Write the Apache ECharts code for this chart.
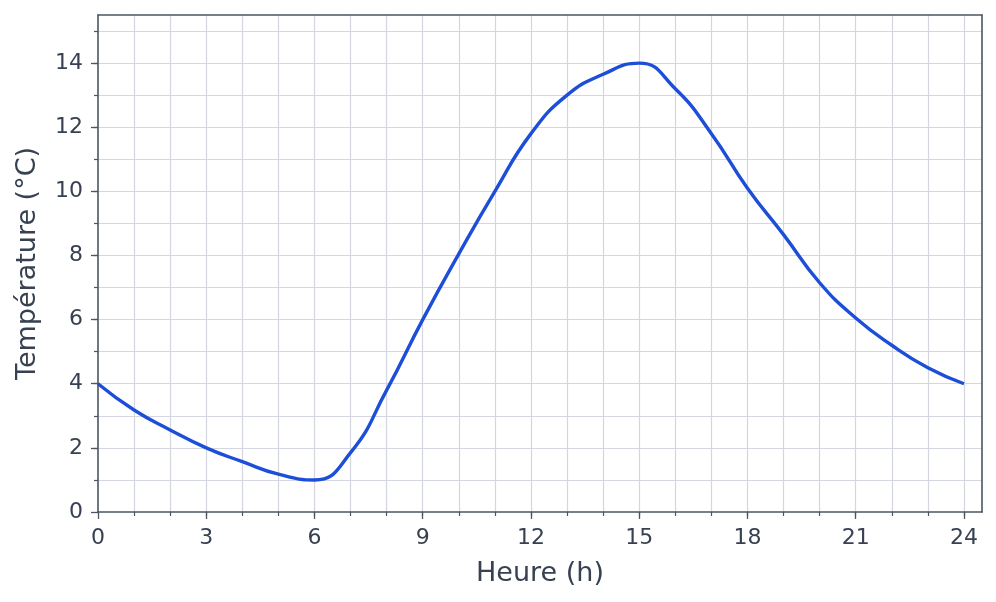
<!DOCTYPE html>
<html>
<head>
<meta charset="utf-8">
<script src="https://cdn.jsdelivr.net/npm/echarts@6/dist/echarts.min.js"></script>
<style>
html,body{margin:0;padding:0;background:#fff;}
#c{width:996px;height:602px;}
</style>
</head>
<body>
<div id="c"></div>
<script>
// Data
var hours = [0,1,2,3,4,5,6,7,8,9,10,11,12,13,14,15,16,17,18,19,20,21,22,23,24];
var temperatures = [4.0,3.18,2.56,2.0,1.57,1.18,1.0,1.85,3.8,6.0,8.05,10.0,11.8,13.0,13.65,14.0,13.2,11.8,10.1,8.65,7.15,6.05,5.2,4.5,4.0];
var xMajorTicks = [0,3,6,9,12,15,18,21,24];
var xMinorTicks = [1,2,3,4,5,6,7,8,9,10,11,12,13,14,15,16,17,18,19,20,21,22,23,24];
var yMajorTicks = [0,2,4,6,8,10,12,14];
var yMinorTicks = [1,2,3,4,5,6,7,8,9,10,11,12,13,14,15];
var xTitle = 'Heure (h)';
var yTitle = 'Température (°C)';

var AX = '#4b5563', TXT = '#374151', GRID = '#d4d7e0', LINE = '#1d4ed8';
var FONT = 'DejaVu Sans';

var points = hours.map(function(h,i){ return [h, temperatures[i]]; });

var chart = echarts.init(document.getElementById('c'), null, {renderer:'canvas'});
chart.setOption({
  animation:false,
  backgroundColor:'#ffffff',
  grid:{left:98,right:14,top:15,bottom:90,containLabel:false},
  xAxis:[
    {
      type:'value', min:0, max:24.5, position:'bottom',
      axisLine:{show:false},
      axisTick:{show:true, customValues:xMinorTicks, length:4, lineStyle:{color:AX,width:1.2}},
      axisLabel:{show:false},
      splitLine:{show:true, lineStyle:{color:GRID,width:1.2}}
    },
    {
      type:'value', min:0, max:24.5, position:'bottom',
      axisLine:{show:true, onZero:false, lineStyle:{color:AX,width:1.6}},
      axisTick:{show:true, customValues:xMajorTicks, length:7, lineStyle:{color:AX,width:1.3}},
      axisLabel:{show:true, customValues:xMajorTicks, margin:15, color:TXT, fontSize:22, fontFamily:FONT},
      splitLine:{show:false},
      name:xTitle, nameLocation:'middle', nameGap:48,
      nameTextStyle:{color:TXT, fontSize:27, fontFamily:FONT}
    },
    {
      type:'value', min:0, max:24.5, position:'top',
      axisLine:{show:true, onZero:false, lineStyle:{color:AX,width:1.6}},
      axisTick:{show:false}, axisLabel:{show:false}, splitLine:{show:false}
    }
  ],
  yAxis:[
    {
      type:'value', min:0, max:15.5, position:'left',
      axisLine:{show:false},
      axisTick:{show:true, customValues:yMinorTicks, length:4, lineStyle:{color:AX,width:1.2}},
      axisLabel:{show:false},
      splitLine:{show:true, lineStyle:{color:GRID,width:1.2}}
    },
    {
      type:'value', min:0, max:15.5, position:'left',
      axisLine:{show:true, onZero:false, lineStyle:{color:AX,width:1.6}},
      axisTick:{show:true, customValues:yMajorTicks, length:7, lineStyle:{color:AX,width:1.3}},
      axisLabel:{show:true, customValues:yMajorTicks, margin:15, color:TXT, fontSize:22, fontFamily:FONT},
      splitLine:{show:false},
      name:yTitle, nameLocation:'middle', nameGap:57, nameRotate:90,
      nameTextStyle:{color:TXT, fontSize:27, fontFamily:FONT}
    },
    {
      type:'value', min:0, max:15.5, position:'right',
      axisLine:{show:true, onZero:false, lineStyle:{color:AX,width:1.6}},
      axisTick:{show:false}, axisLabel:{show:false}, splitLine:{show:false}
    }
  ],
  series:[{
    type:'line', xAxisIndex:1, yAxisIndex:1,
    data:points, smooth:0.5, showSymbol:false,
    lineStyle:{color:LINE, width:3.4}, z:5
  }]
});
</script>
</body>
</html>
